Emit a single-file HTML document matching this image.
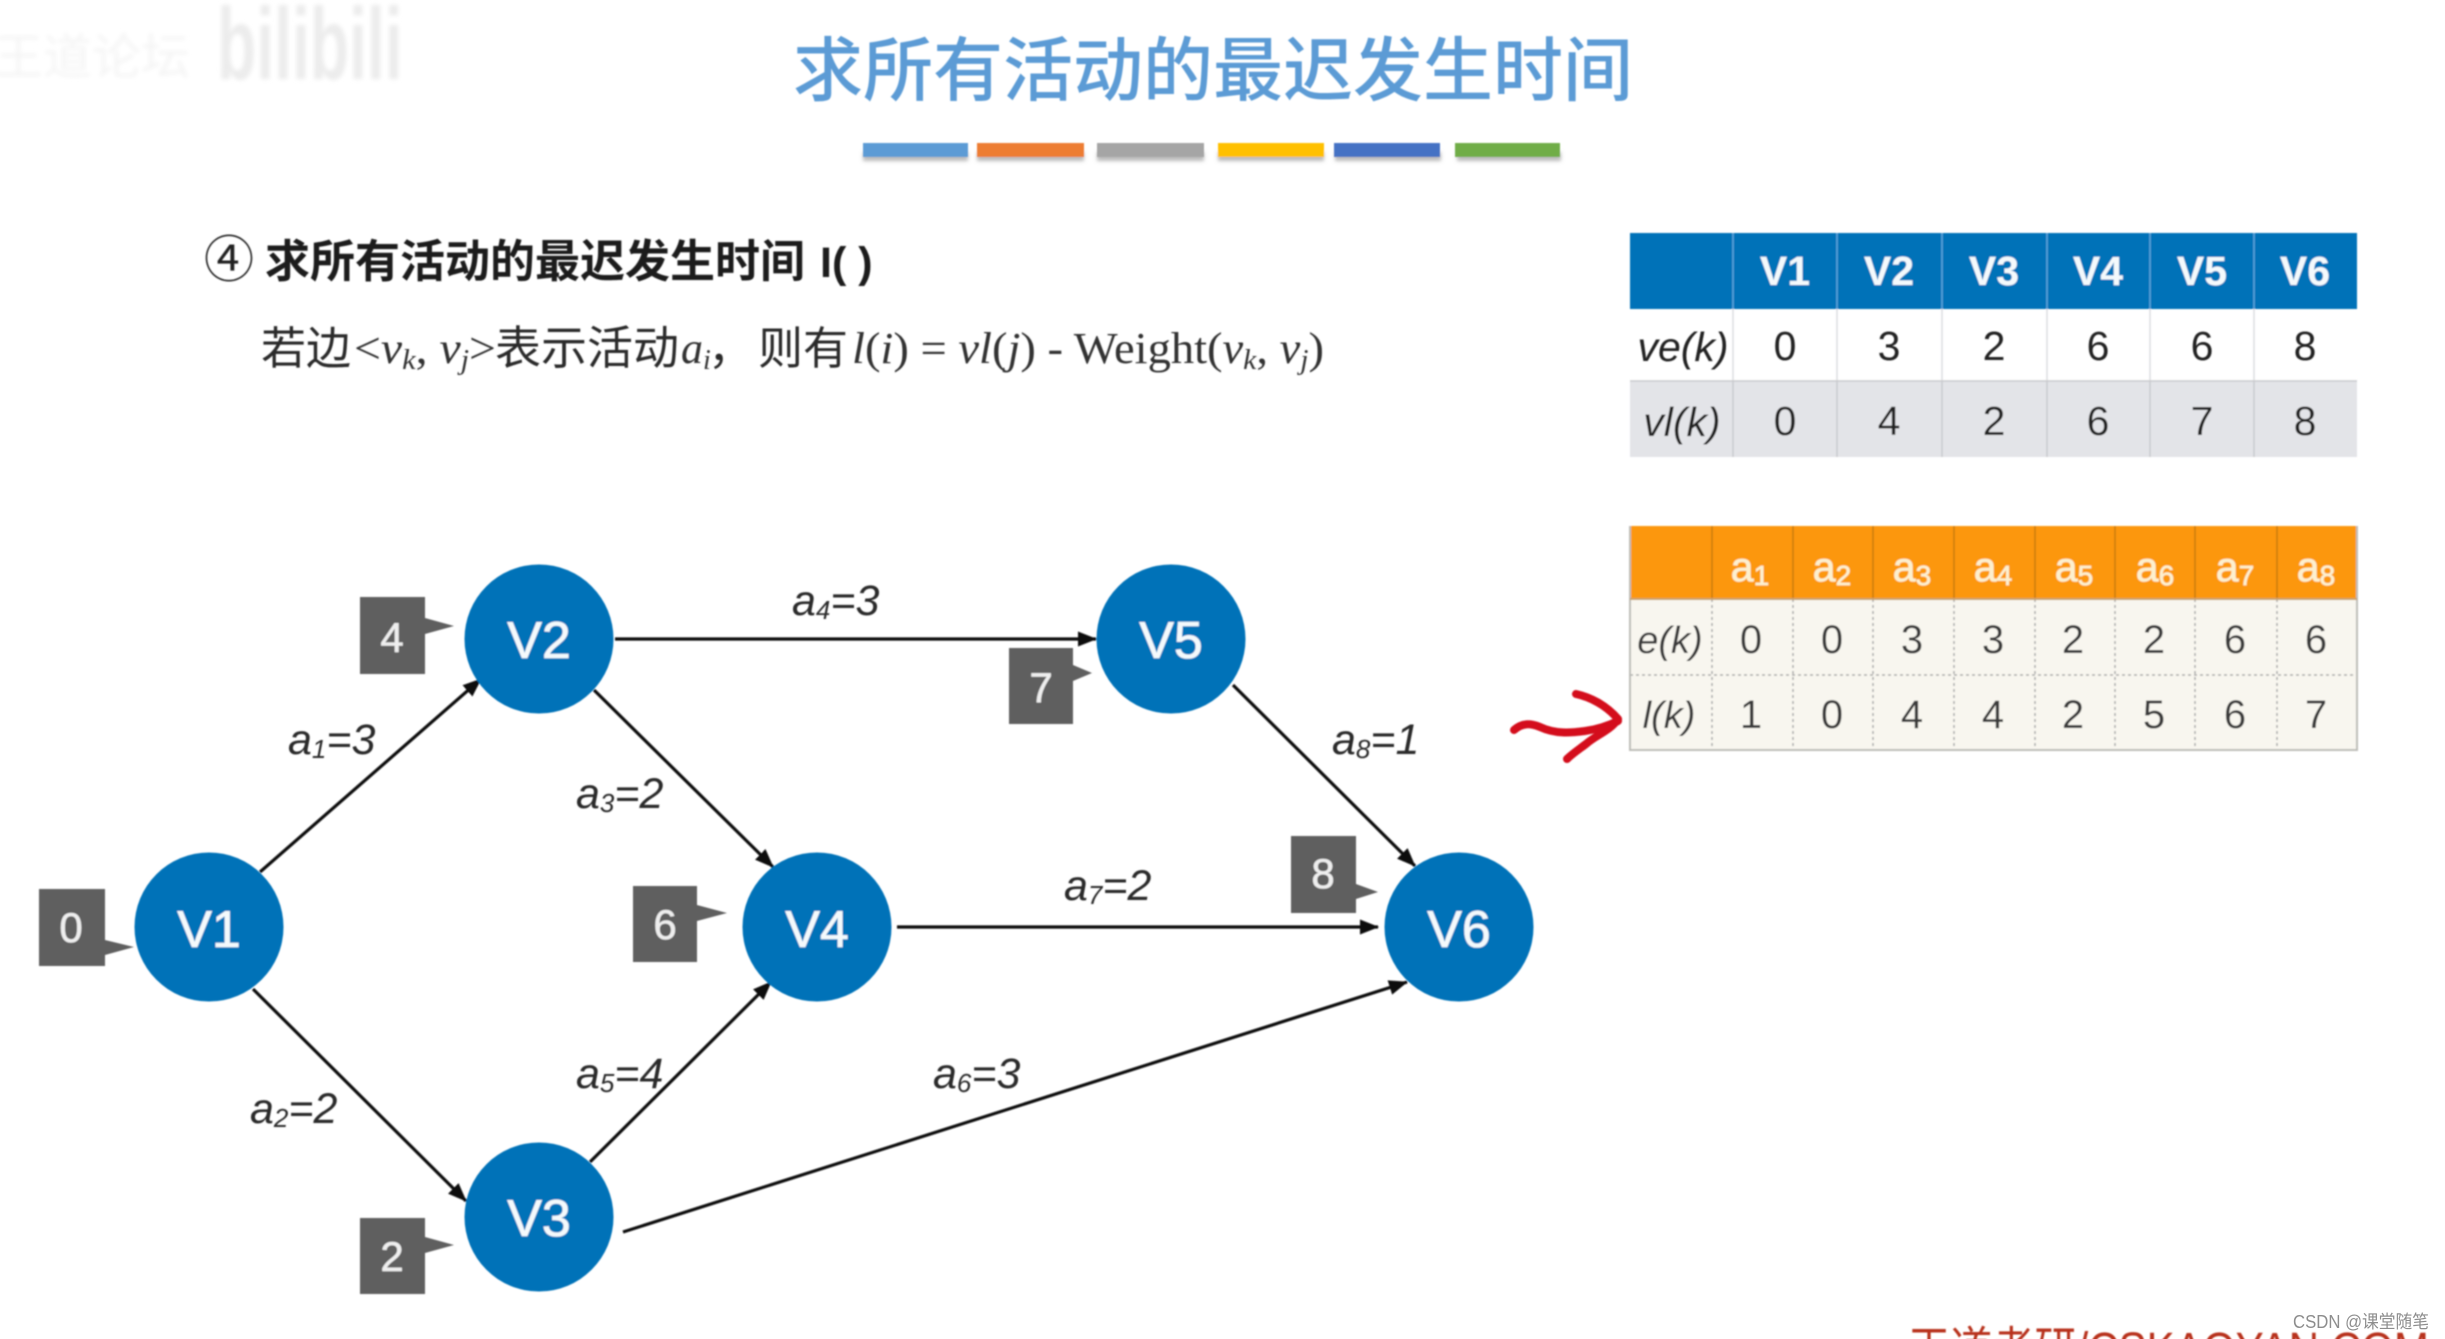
<!DOCTYPE html>
<html>
<head>
<meta charset="utf-8">
<style>
html,body{margin:0;padding:0;background:#fff;width:2445px;height:1339px;overflow:hidden}
svg{display:block}
text{font-family:"Liberation Sans","Noto Sans CJK SC",sans-serif}
.cjk{font-family:"Noto Sans CJK SC","Liberation Sans",sans-serif}
.m{font-family:"Liberation Serif","Noto Sans CJK SC",serif;font-size:44px;fill:#333}
.node{font-size:52px;fill:#f4f9fc;text-anchor:middle;stroke:#f4f9fc;stroke-width:.6}
.bd{font-size:42px;fill:#eee;text-anchor:middle;stroke:#eee;stroke-width:.5}
.lb{font-size:43px;font-style:italic;fill:#2a2a2a}
.lb .s{font-size:26px}
.th{font-size:41px;font-weight:bold;fill:#f4f9fc;text-anchor:middle}
.td{font-size:41px;fill:#222;text-anchor:middle}
.ti{font-size:41px;font-style:italic;fill:#222;text-anchor:middle}
.oh{font-size:41px;fill:#fdf0cf;text-anchor:middle;stroke:#fdf0cf;stroke-width:.7}
.oh .s{font-size:28px}
.od{font-size:40px;fill:#3a3a3a;text-anchor:middle}
.oi{font-size:38px;font-style:italic;fill:#3a3a3a;text-anchor:middle}
.e{stroke:#111;stroke-width:3.2;fill:none;marker-end:url(#ah)}
</style>
</head>
<body>
<svg xmlns="http://www.w3.org/2000/svg" width="2445" height="1339" viewBox="0 0 2445 1339">
<defs>
<marker id="ah" markerUnits="userSpaceOnUse" markerWidth="20" markerHeight="18" viewBox="0 0 20 18" refX="18" refY="9" orient="auto">
<path d="M0 1.5 L19 9 L0 16.5 Z" fill="#111"/>
</marker>
<filter id="b1" x="-5%" y="-5%" width="110%" height="110%"><feGaussianBlur stdDeviation="0.7"/></filter>
<filter id="b3" x="-10%" y="-10%" width="120%" height="120%"><feGaussianBlur stdDeviation="2"/></filter>
<filter id="b2" x="-5%" y="-30%" width="110%" height="180%"><feGaussianBlur stdDeviation="1.8"/></filter>
</defs>

<!-- watermark -->
<g filter="url(#b3)">
<text class="cjk" x="-6" y="74" font-size="49" fill="#f5f5f5">王道论坛</text>
<text x="0" y="0" font-size="102" font-weight="bold" transform="translate(217 79) scale(.63 1)" fill="#ececec">bilibili</text>
</g>

<g filter="url(#b1)">
<!-- title -->
<text class="cjk" x="793" y="95" font-size="70" font-weight="500" fill="#5b9bd5">求所有活动的最迟发生时间</text>

<!-- colour bars -->
<g filter="url(#b2)" fill="#bbb">
<rect x="863" y="152" width="105" height="9"/><rect x="977" y="152" width="107" height="9"/><rect x="1097" y="152" width="107" height="9"/><rect x="1218" y="152" width="106" height="9"/><rect x="1335" y="152" width="106" height="9"/><rect x="1457" y="152" width="104" height="9"/>
</g>
<rect x="863" y="143" width="105" height="14" fill="#5b9bd5"/>
<rect x="977" y="143" width="107" height="14" fill="#ed7d31"/>
<rect x="1097" y="143" width="107" height="14" fill="#a5a5a5"/>
<rect x="1218" y="143" width="106" height="14" fill="#ffc000"/>
<rect x="1334" y="143" width="106" height="14" fill="#4472c4"/>
<rect x="1455" y="143" width="105" height="14" fill="#70ad47"/>

<!-- heading -->
<text class="cjk" x="204" y="277" font-size="50" fill="#222">④</text>
<text class="cjk" x="265" y="277" font-size="45" font-weight="bold" fill="#1a1a1a">求所有活动的最迟发生时间</text>
<text x="820" y="277" font-size="43" font-weight="bold" fill="#1a1a1a">I( )</text>

<!-- formula -->
<text class="cjk" x="261" y="364" font-size="45" fill="#2a2a2a">若边</text>
<text class="m" x="354" y="363" textLength="142" lengthAdjust="spacingAndGlyphs">&lt;<tspan font-style="italic">v</tspan><tspan font-style="italic" font-size="28" dy="6">k</tspan><tspan dy="-6">, </tspan><tspan font-style="italic">v</tspan><tspan font-style="italic" font-size="28" dy="6">j</tspan><tspan dy="-6">&gt;</tspan></text>
<text class="cjk" x="495" y="364" font-size="46" fill="#2a2a2a">表示活动</text>
<text class="m" x="681" y="363" font-style="italic">a<tspan font-size="28" dy="6">i</tspan></text>
<text class="cjk" x="708" y="364" font-size="45" fill="#2a2a2a">，</text>
<text class="cjk" x="758" y="364" font-size="45" fill="#2a2a2a">则有</text>
<text class="m" x="852" y="363" textLength="472" lengthAdjust="spacingAndGlyphs"><tspan font-style="italic">l</tspan>(<tspan font-style="italic">i</tspan>) = <tspan font-style="italic">vl</tspan>(<tspan font-style="italic">j</tspan>) - Weight(<tspan font-style="italic">v</tspan><tspan font-style="italic" font-size="28" dy="6">k</tspan><tspan dy="-6">, </tspan><tspan font-style="italic">v</tspan><tspan font-style="italic" font-size="28" dy="6">j</tspan><tspan dy="-6">)</tspan></text>

<!-- table 1 -->
<rect x="1630" y="233" width="727" height="76" fill="#0272b8"/>
<rect x="1630" y="381" width="727" height="76" fill="#e3e4e8"/>
<g stroke="#5aa6dc" stroke-width="1.5"><path d="M1733 233V309M1837 233V309M1942 233V309M2047 233V309M2150 233V309M2254 233V309"/></g>
<g stroke="#dcdde0" stroke-width="1.5"><path d="M1733 309V381M1837 309V381M1942 309V381M2047 309V381M2150 309V381M2254 309V381"/></g>
<g stroke="#c9cacd" stroke-width="1.5"><path d="M1630 381H2357M1733 381V457M1837 381V457M1942 381V457M2047 381V457M2150 381V457M2254 381V457"/></g>
<text class="th" x="1785" y="285">V1</text><text class="th" x="1889" y="285">V2</text><text class="th" x="1994" y="285">V3</text><text class="th" x="2098" y="285">V4</text><text class="th" x="2202" y="285">V5</text><text class="th" x="2305" y="285">V6</text>
<text class="ti" x="1683" y="361">ve(k)</text>
<text class="td" x="1785" y="360">0</text><text class="td" x="1889" y="360">3</text><text class="td" x="1994" y="360">2</text><text class="td" x="2098" y="360">6</text><text class="td" x="2202" y="360">6</text><text class="td" x="2305" y="360">8</text>
<text class="ti" x="1682" y="436">vl(k)</text>
<text class="td" x="1785" y="435">0</text><text class="td" x="1889" y="435">4</text><text class="td" x="1994" y="435">2</text><text class="td" x="2098" y="435">6</text><text class="td" x="2202" y="435">7</text><text class="td" x="2305" y="435">8</text>

<!-- table 2 -->
<rect x="1630" y="526" width="727" height="73" fill="#fc9711"/>
<rect x="1630" y="599" width="727" height="151" fill="#f8f6ef"/>
<g stroke="#c97a10" stroke-width="1.5"><path d="M1712 526V599M1793 526V599M1873 526V599M1954 526V599M2035 526V599M2115 526V599M2195 526V599M2277 526V599"/></g>
<g stroke="#aaa" stroke-width="1.5" stroke-dasharray="3 3"><path d="M1712 599V750M1793 599V750M1873 599V750M1954 599V750M2035 599V750M2115 599V750M2195 599V750M2277 599V750M1630 675H2357"/></g>
<path d="M1630 526V750H2357V526" fill="none" stroke="#bdbdb8" stroke-width="2"/>
<path d="M1630 599H2357" stroke="#c9a26a" stroke-width="2"/>
<text class="oh" x="1750" y="581">a<tspan class="s" dy="4">1</tspan></text><text class="oh" x="1832" y="581">a<tspan class="s" dy="4">2</tspan></text><text class="oh" x="1912" y="581">a<tspan class="s" dy="4">3</tspan></text><text class="oh" x="1993" y="581">a<tspan class="s" dy="4">4</tspan></text><text class="oh" x="2074" y="581">a<tspan class="s" dy="4">5</tspan></text><text class="oh" x="2155" y="581">a<tspan class="s" dy="4">6</tspan></text><text class="oh" x="2235" y="581">a<tspan class="s" dy="4">7</tspan></text><text class="oh" x="2316" y="581">a<tspan class="s" dy="4">8</tspan></text>
<text class="oi" x="1670" y="653">e(k)</text>
<text class="od" x="1751" y="653">0</text><text class="od" x="1832" y="653">0</text><text class="od" x="1912" y="653">3</text><text class="od" x="1993" y="653">3</text><text class="od" x="2073" y="653">2</text><text class="od" x="2154" y="653">2</text><text class="od" x="2235" y="653">6</text><text class="od" x="2316" y="653">6</text>
<text class="oi" x="1669" y="728">l(k)</text>
<text class="od" x="1751" y="728">1</text><text class="od" x="1832" y="728">0</text><text class="od" x="1912" y="728">4</text><text class="od" x="1993" y="728">4</text><text class="od" x="2073" y="728">2</text><text class="od" x="2154" y="728">5</text><text class="od" x="2235" y="728">6</text><text class="od" x="2316" y="728">7</text>

<!-- red hand-drawn arrow -->
<g fill="none" stroke="#d4101c" stroke-width="8" stroke-linecap="round" stroke-linejoin="round" transform="translate(0 -1)">
<path d="M1514 731C1522 724 1530 724 1540 728C1555 735 1570 734 1585 732C1598 730 1610 726 1618 722"/>
<path d="M1576 695C1590 698 1606 706 1618 720C1610 732 1596 736 1586 745C1578 751 1572 755 1567 760"/>
</g>

<!-- edges -->
<line class="e" x1="260" y1="872" x2="481" y2="679"/>
<line class="e" x1="253" y1="989" x2="466" y2="1201"/>
<line class="e" x1="594" y1="690" x2="773" y2="867"/>
<line class="e" x1="590" y1="1162" x2="771" y2="982"/>
<line class="e" x1="615" y1="639" x2="1096" y2="639"/>
<line class="e" x1="623" y1="1232" x2="1407" y2="982"/>
<line class="e" x1="897" y1="927" x2="1378" y2="927"/>
<line class="e" x1="1233" y1="685" x2="1415" y2="866"/>

<!-- nodes -->
<g fill="#0272b8">
<circle cx="209" cy="927" r="74.5"/><circle cx="539" cy="639" r="74.5"/><circle cx="539" cy="1217" r="74.5"/>
<circle cx="817" cy="927" r="74.5"/><circle cx="1171" cy="639" r="74.5"/><circle cx="1459" cy="927" r="74.5"/>
</g>
<text class="node" x="209" y="947">V1</text>
<text class="node" x="539" y="658">V2</text>
<text class="node" x="539" y="1236">V3</text>
<text class="node" x="817" y="947">V4</text>
<text class="node" x="1171" y="658">V5</text>
<text class="node" x="1459" y="947">V6</text>

<!-- badges -->
<g fill="#5f5f5f">
<path transform="translate(0 -2)" d="M39 891H105V942L134 949L105 957V968H39Z"/>
<path transform="translate(0 -1)" d="M360 598H425V619L454 627L425 635V675H360Z"/>
<path transform="translate(0 -3)" d="M360 1221H425V1240L454 1248L425 1256V1297H360Z"/>
<path transform="translate(0 -2)" d="M633 888H697V907L727 915L697 923V964H633Z"/>
<path transform="translate(0 -1)" d="M1009 649H1073V666L1092 674L1073 682V725H1009Z"/>
<path transform="translate(0 -1)" d="M1291 837H1356V885L1378 893L1356 900V914H1291Z"/>
</g>
<text class="bd" x="71" y="942">0</text>
<text class="bd" x="392" y="652">4</text>
<text class="bd" x="392" y="1271">2</text>
<text class="bd" x="665" y="939">6</text>
<text class="bd" x="1041" y="702">7</text>
<text class="bd" x="1323" y="888">8</text>

<!-- edge labels -->
<text class="lb" x="288" y="754">a<tspan class="s" dy="4">1</tspan><tspan dy="-4">=3</tspan></text>
<text class="lb" x="250" y="1123">a<tspan class="s" dy="4">2</tspan><tspan dy="-4">=2</tspan></text>
<text class="lb" x="576" y="808">a<tspan class="s" dy="4">3</tspan><tspan dy="-4">=2</tspan></text>
<text class="lb" x="792" y="615">a<tspan class="s" dy="4">4</tspan><tspan dy="-4">=3</tspan></text>
<text class="lb" x="576" y="1088">a<tspan class="s" dy="4">5</tspan><tspan dy="-4">=4</tspan></text>
<text class="lb" x="933" y="1088">a<tspan class="s" dy="4">6</tspan><tspan dy="-4">=3</tspan></text>
<text class="lb" x="1064" y="900">a<tspan class="s" dy="4">7</tspan><tspan dy="-4">=2</tspan></text>
<text class="lb" x="1332" y="754">a<tspan class="s" dy="4">8</tspan><tspan dy="-4">=1</tspan></text>

<!-- footer -->
<text x="1908" y="1366" font-size="48" fill="#b8331c" textLength="521" lengthAdjust="spacingAndGlyphs">王道考研/CSKAOYAN.COM</text>
</g>
<text x="2293" y="1328" font-size="18" fill="#8d8d8d" textLength="136" lengthAdjust="spacingAndGlyphs">CSDN @课堂随笔</text>
</svg>
</body>
</html>
